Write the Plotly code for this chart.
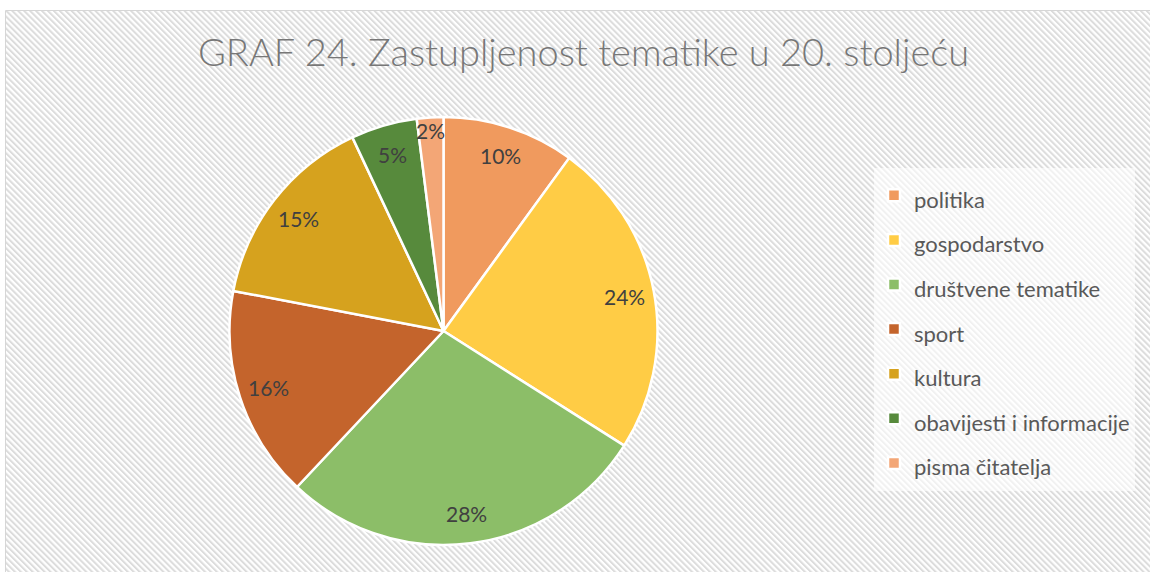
import base64
import math
import plotly.graph_objects as go

# ---- data ----
categories = ["politika", "gospodarstvo", "društvene tematike", "sport",
              "kultura", "obavijesti i informacije", "pisma čitatelja"]
shares = [10, 24, 28, 16, 15, 5, 2]
slice_colors = ["#F09A5E", "#FFCC45", "#8CBE68", "#C4642C",
                "#D6A21E", "#578A3C", "#F3A676"]
title_text = "GRAF 24. Zastupljenost tematike u 20. stoljeću"

W, H = 1150, 572
FONT = "Lato, 'Open Sans', sans-serif"

# hatched background as an inline SVG image
svg = f"""<svg xmlns='http://www.w3.org/2000/svg' width='{W}' height='{H}'>
<defs><pattern id='p' width='4.2' height='4.2' patternUnits='userSpaceOnUse' patternTransform='rotate(-45)'>
<rect width='4.2' height='4.2' fill='#ffffff'/><rect width='2' height='4.2' fill='#dcdcdc'/></pattern></defs>
<rect width='{W}' height='{H}' fill='#ffffff'/>
<rect x='6' y='11' width='{W}' height='{H}' fill='url(#p)'/>
<line x1='5.5' y1='10.5' x2='{W}' y2='10.5' stroke='#d6d6d6' stroke-width='1'/>
<line x1='5.5' y1='10.5' x2='5.5' y2='{H}' stroke='#d6d6d6' stroke-width='1'/>
</svg>"""
svg_uri = "data:image/svg+xml;base64," + base64.b64encode(svg.encode()).decode()

legend_labels = [f"<span style='font-size:22px'>{c}</span>" for c in categories]

# pie geometry (pixels)
cx, cy, r = 443.5, 331, 214
fig = go.Figure(go.Pie(
    labels=legend_labels,
    values=shares,
    sort=False,
    direction="clockwise",
    rotation=0,
    marker=dict(colors=slice_colors, line=dict(color="white", width=2.5)),
    textinfo="none",
    hovertemplate="%{label}: %{value}%<extra></extra>",
    domain=dict(x=[(cx - r) / W, (cx + r) / W], y=[1 - (cy + r) / H, 1 - (cy - r) / H]),
))

# percentage labels placed near the outer part of each slice, derived from the data
total = sum(shares)
annotations = []
cum = 0
for v in shares:
    mid = (cum + v / 2) / total * 2 * math.pi
    cum += v
    frac = 0.94 if v / total < 0.03 else 0.86
    px = cx + frac * r * math.sin(mid)
    py = cy - frac * r * math.cos(mid)
    annotations.append(dict(
        x=px / W, y=1 - py / H, xref="paper", yref="paper", showarrow=False,
        text=f"{round(v / total * 100)}%",
        font=dict(family=FONT, size=21, color="#404040"),
        xanchor="center", yanchor="middle",
    ))

fig.update_layout(
    width=W, height=H,
    margin=dict(l=0, r=0, t=0, b=0),
    paper_bgcolor="white",
    plot_bgcolor="rgba(0,0,0,0)",
    title=dict(text=title_text, x=583.5 / W, xanchor="center", y=1 - 53 / H, yanchor="middle",
               font=dict(family=FONT, size=38, color="#777777", weight=300)),
    legend=dict(x=874 / W, xanchor="left", y=1 - 168 / H, yanchor="top",
                bgcolor="rgba(255,255,255,0.6)", borderwidth=0,
                font=dict(family=FONT, size=32, color="#595959")),
    annotations=annotations,
    images=[dict(source=svg_uri, xref="paper", yref="paper", x=0, y=1, sizex=1, sizey=1,
                 xanchor="left", yanchor="top", sizing="stretch", layer="below")],
)

fig.write_html(
    "out.html",
    config={"displayModeBar": False},
    post_script="document.body.style.margin='0px';document.body.style.overflow='hidden';",
)
